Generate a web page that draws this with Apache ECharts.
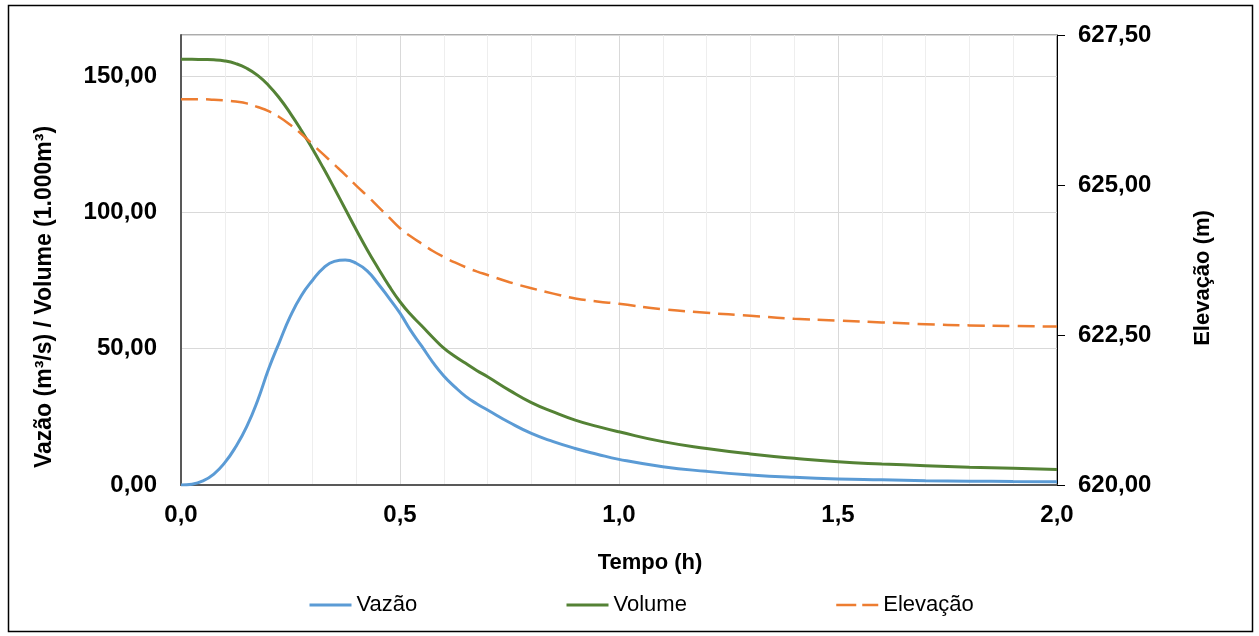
<!DOCTYPE html>
<html>
<head>
<meta charset="utf-8">
<script src="https://cdn.jsdelivr.net/npm/echarts@6/dist/echarts.min.js"></script>
<style>
  html, body { margin: 0; padding: 0; background: #fff; }
  #main { width: 1259px; height: 636px; }
</style>
</head>
<body>
<div id="main"></div>
<script>
// tempo (h)
var tempo = [0, 0.025, 0.05, 0.075, 0.1, 0.125, 0.15, 0.175, 0.2, 0.225, 0.25, 0.275, 0.3, 0.325, 0.35,
    0.375, 0.4, 0.425, 0.45, 0.475, 0.5, 0.525, 0.55, 0.575, 0.6, 0.625, 0.65, 0.675, 0.7,
    0.75, 0.8, 0.85, 0.9, 0.95, 1.0, 1.1, 1.2, 1.3, 1.4, 1.5, 1.6, 1.7, 1.8, 1.9, 2.0];
// vazao (m3/s)
var vazao = [0, 0.3, 1.5, 4, 8.2, 14, 21.4, 31, 42.5, 52.5, 62, 69.5, 75, 79.5, 82,
    82.5, 81.3, 78.5, 73.8, 68.5, 63, 56.5, 50.8, 45, 40, 36, 32.5, 29.8, 27.5,
    22.9, 18.9, 15.9, 13.4, 11.3, 9.4, 6.7, 5.0, 3.7, 2.8, 2.2, 1.9, 1.6, 1.4, 1.3, 1.2];
// volume (1.000 m3)
var volume = [156.1, 156.1, 156, 155.9, 155.5, 154.5, 152.8, 150.2, 146.5, 141.8, 136.2, 130, 123.3, 116.2, 108.8,
    101.2, 93.6, 86.3, 79.5, 73, 67.2, 62.4, 58.3, 54.1, 50.2, 47.2, 44.6, 42, 39.7,
    34.7, 30.2, 26.8, 23.8, 21.5, 19.5, 15.9, 13.4, 11.4, 9.8, 8.5, 7.7, 7.1, 6.5, 6.1, 5.7];
// elevacao (m)
var elevacao = [626.43, 626.43, 626.43, 626.42, 626.41, 626.39, 626.36, 626.3, 626.23, 626.13, 626.0, 625.85, 625.68, 625.51, 625.34,
    625.17, 624.99, 624.82, 624.64, 624.46, 624.28, 624.14, 624.02, 623.9, 623.8, 623.71, 623.63, 623.56, 623.5,
    623.38, 623.28, 623.19, 623.11, 623.06, 623.02, 622.93, 622.87, 622.82, 622.77, 622.74, 622.71, 622.68, 622.66, 622.65, 622.64];

var fonte = 'Liberation Sans, Arial, sans-serif';

function pares(ys) {
    return tempo.map(function (t, i) { return [t, ys[i]]; });
}
function virgula(v, casas) {
    return v.toFixed(casas).replace('.', ',');
}

var myChart = echarts.init(document.getElementById('main'));

// uma legenda por serie, o Excel espalha os itens
var legendaBase = {
    top: 594,
    padding: 0,
    itemWidth: 42,
    itemHeight: 14,
    itemGap: 5,
    itemStyle: { opacity: 0 },
    textStyle: { fontFamily: fonte, fontSize: 22, color: '#000' }
};

var option = {
    animation: false,
    backgroundColor: '#fff',
    grid: {
        left: 181, right: 202, top: 35, bottom: 151,
        show: true, borderColor: '#595959', borderWidth: 1
    },
    legend: [
        Object.assign({ left: 308, data: ['Vazão'], lineStyle: { width: 3 } }, legendaBase),
        Object.assign({ left: 565, data: ['Volume'], lineStyle: { width: 3 } }, legendaBase),
        Object.assign({ left: 835, data: ['Elevação'], lineStyle: { width: 2.5, type: [20, 6] } }, legendaBase)
    ],
    xAxis: {
        type: 'value',
        min: 0, max: 2, interval: 0.5,
        axisLine: { lineStyle: { color: '#595959', width: 2 } },
        axisTick: { show: false },
        minorTick: { show: false, splitNumber: 5 },
        minorSplitLine: { show: true, lineStyle: { color: '#eeeeee', width: 1 } },
        splitLine: { show: true, lineStyle: { color: '#d9d9d9', width: 1 } },
        axisLabel: {
            margin: 18,
            fontFamily: fonte, fontSize: 24, fontWeight: 'bold', color: '#000',
            formatter: function (v) { return virgula(v, 1); }
        }
    },
    yAxis: [{
        type: 'value',
        min: 0, max: 165, interval: 50,
        axisLine: { show: true, lineStyle: { color: '#595959', width: 2 } },
        axisTick: { show: false },
        splitLine: { show: true, lineStyle: { color: '#d9d9d9', width: 1 } },
        axisLabel: {
            margin: 24,
            fontFamily: fonte, fontSize: 24, fontWeight: 'bold', color: '#000',
            formatter: function (v) { return v % 50 === 0 ? virgula(v, 2) : ''; }
        }
    }, {
        type: 'value',
        position: 'right',
        min: 620, max: 627.5, interval: 2.5,
        axisLine: { show: true, lineStyle: { color: '#000', width: 1 } },
        axisTick: { show: true, inside: false, length: 8, lineStyle: { color: '#000' } },
        splitLine: { show: false },
        axisLabel: {
            margin: 21,
            fontFamily: fonte, fontSize: 24, fontWeight: 'bold', color: '#000',
            formatter: function (v) { return virgula(v, 2); }
        }
    }],
    series: [{
        name: 'Vazão',
        type: 'line',
        yAxisIndex: 0,
        smooth: 0.5,
        symbol: 'none',
        lineStyle: { color: '#5B9BD5', width: 3 },
        itemStyle: { color: '#5B9BD5' },
        data: pares(vazao)
    }, {
        name: 'Volume',
        type: 'line',
        yAxisIndex: 0,
        smooth: 0.5,
        symbol: 'none',
        lineStyle: { color: '#548235', width: 3 },
        itemStyle: { color: '#548235' },
        data: pares(volume)
    }, {
        name: 'Elevação',
        type: 'line',
        yAxisIndex: 1,
        smooth: 0.5,
        symbol: 'none',
        lineStyle: { color: '#ED7D31', width: 2.5, type: [17, 8] },
        itemStyle: { color: '#ED7D31' },
        data: pares(elevacao)
    }],
    graphic: [{
        type: 'rect',
        silent: true,
        shape: { x: 8.5, y: 5.5, width: 1244, height: 626 },
        style: { fill: null, stroke: '#000', lineWidth: 1.5 }
    }, {
        type: 'text',
        x: 45, y: 297,
        rotation: Math.PI / 2,
        style: {
            text: 'Vazão (m³/s) / Volume (1.000m³)',
            fontFamily: fonte, fontSize: 23, fontWeight: 'bold', fill: '#000',
            align: 'center', verticalAlign: 'middle'
        }
    }, {
        type: 'text',
        x: 1203, y: 278,
        rotation: Math.PI / 2,
        style: {
            text: 'Elevação (m)',
            fontFamily: fonte, fontSize: 22, fontWeight: 'bold', fill: '#000',
            align: 'center', verticalAlign: 'middle'
        }
    }, {
        type: 'text',
        x: 650, y: 563,
        style: {
            text: 'Tempo (h)',
            fontFamily: fonte, fontSize: 22, fontWeight: 'bold', fill: '#000',
            align: 'center', verticalAlign: 'middle'
        }
    }]
};

myChart.setOption(option);
</script>
</body>
</html>
